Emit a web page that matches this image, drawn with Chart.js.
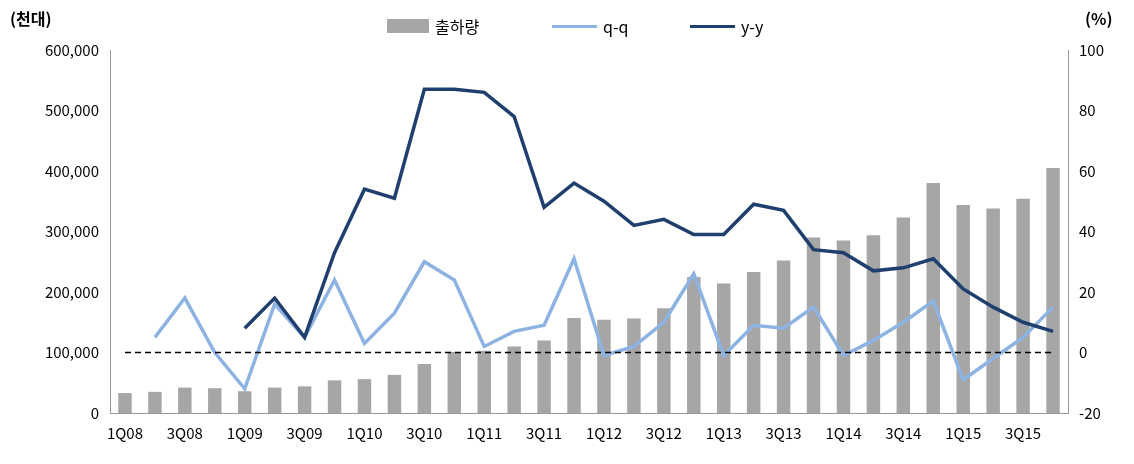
<!DOCTYPE html>
<html><head><meta charset="utf-8">
<script src="https://cdn.jsdelivr.net/npm/chart.js@4"></script>
<style>body{margin:0;background:#fff}#w{position:relative;width:1134px;height:464px;font-family:"Noto Sans CJK KR"}
.t{position:absolute;top:6px;font-weight:bold;font-size:16px;color:#000}
.lg{position:absolute;top:14px;font-size:16px;display:flex;align-items:center}
.lg i{display:inline-block;margin-right:6px}</style></head>
<body><div id="w"><canvas id="c" width="1134" height="464"></canvas>
<div class="t" style="left:10px">(천대)</div><div class="t" style="left:1085px">(%)</div>
<div class="lg" style="left:387px"><i style="width:42px;height:14px;background:#a6a6a6"></i>출하량</div>
<div class="lg" style="left:552px"><i style="width:45px;height:3px;background:#8db3e2"></i>q-q</div>
<div class="lg" style="left:690px"><i style="width:45px;height:3px;background:#1f3f6e"></i>y-y</div>
</div>
<script>
const categories=[];for(const y of ['08','09','10','11','12','13','14','15'])for(const q of [1,2,3,4])categories.push(q+'Q'+y);
const shipments=[33,35,42,41,36,42,44,54,56,63,81,101,103,110,120,157,154,156,173,225,214,233,252,290,285,294,323,380,344,338,354,405].map(v=>v*1000);
const qq=[null,5,18,0,-12,16,5,24,3,13,30,24,2,7,9,31,-1,2,10,26,-1,9,8,15,-1,4,10,17,-9,-2,5,15];
const yy=[null,null,null,null,8,18,5,33,54,51,87,87,86,78,48,56,50,42,44,39,39,49,47,34,33,27,28,31,21,15,10,7];
const zero=categories.map(()=>0);
const f="'Noto Sans CJK KR'";
new Chart(document.getElementById('c'),{type:'bar',data:{labels:categories,datasets:[
{type:'line',label:'zero',data:zero,yAxisID:'y1',borderColor:'#000',borderWidth:1.5,borderDash:[6,4],pointRadius:0,order:0},
{label:'출하량',data:shipments,backgroundColor:'#a6a6a6',barPercentage:0.45,categoryPercentage:1,yAxisID:'y',order:3},
{type:'line',label:'q-q',data:qq,yAxisID:'y1',borderColor:'#8db3e2',borderWidth:3.5,pointRadius:0,tension:0,order:2},
{type:'line',label:'y-y',data:yy,yAxisID:'y1',borderColor:'#1f3f6e',borderWidth:3.5,pointRadius:0,tension:0,order:1}]},
options:{responsive:false,animation:false,layout:{padding:{left:0,right:0,top:50,bottom:0}},
plugins:{legend:{display:false},tooltip:{enabled:false}},
scales:{x:{grid:{display:false},border:{color:'#999'},afterFit:s=>{s.height=51},ticks:{autoSkip:false,maxRotation:0,font:{family:f,size:15},color:'#000',callback:(v,i)=>i%2==0?categories[i]:''}},
y:{min:0,max:600000,afterFit:s=>{s.width=110},ticks:{stepSize:100000,font:{family:f,size:15},color:'#000',callback:v=>v.toLocaleString('en-US')},grid:{display:false},border:{color:'#999'}},
y1:{position:'right',min:-20,max:100,afterFit:s=>{s.width=66},ticks:{stepSize:20,font:{family:f,size:15},color:'#000'},grid:{display:false},border:{color:'#999'}}}}});
</script></body></html>
